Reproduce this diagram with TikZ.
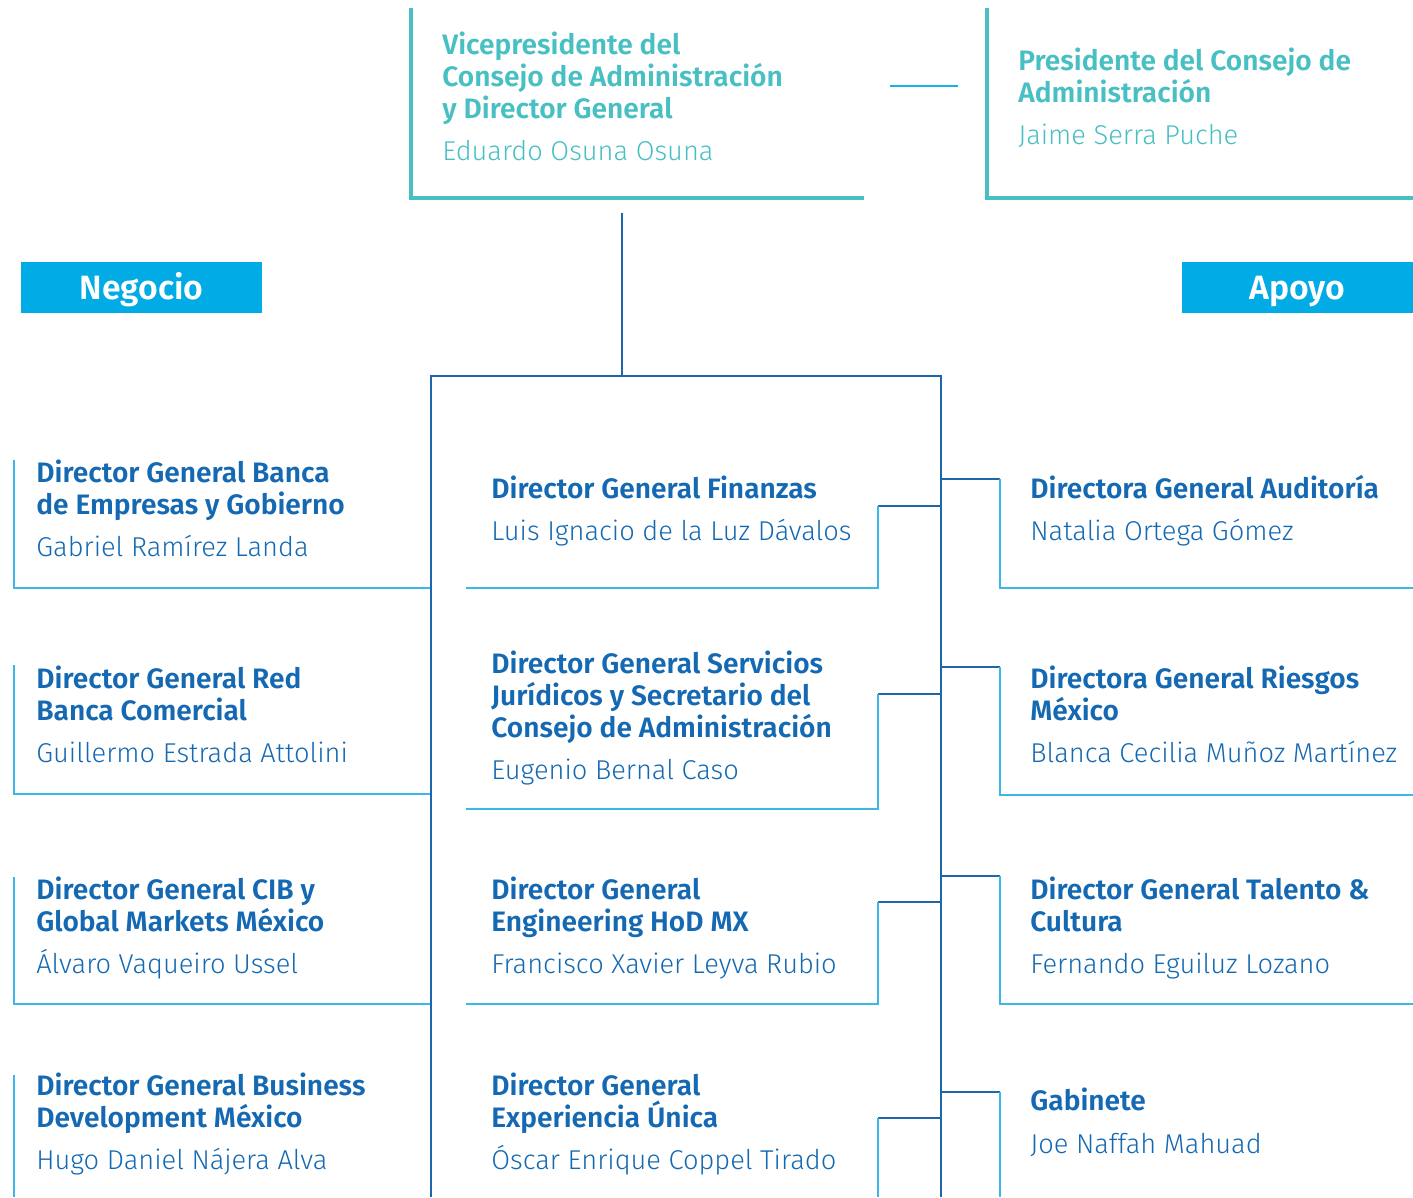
\documentclass[tikz,border=0pt]{standalone}
\usepackage{fontspec}
\setmainfont{Fira Sans}
\newfontfamily\lightfont{Fira Sans Light}
\newfontfamily\semifont{Fira Sans SemiBold}
\usetikzlibrary{positioning}
\definecolor{orgteal}{HTML}{48BFC3}
\definecolor{titleblue}{HTML}{1469B2}
\definecolor{trunkblue}{HTML}{1E66AA}
\definecolor{lineblue}{HTML}{3DB6E8}
\definecolor{bannerblue}{HTML}{00ABE6}
\definecolor{linkblue}{HTML}{14B4EB}
\tikzset{
	org/.style={x=0.02cm,y=-0.02cm},
	bosstitle/.style={anchor=base west,align=left,inner sep=0pt,text=orgteal,
		font=\semifont\fontsize{16}{18.2}\selectfont},
	bossname/.style={anchor=base west,inner sep=0pt,text=orgteal,
		font=\lightfont\fontsize{15.5}{18.2}\selectfont},
	roletitle/.style={anchor=base west,align=left,inner sep=0pt,text=titleblue,
		font=\semifont\fontsize{16}{18.2}\selectfont},
	rolename/.style={anchor=base west,inner sep=0pt,text=titleblue,
		font=\lightfont\fontsize{15.5}{18.2}\selectfont},
	banner/.style={fill=bannerblue,text=white,inner sep=0pt,minimum height=1.02cm,
		text height=13.2pt,text depth=0pt,
		font=\semifont\fontsize{19.2}{21}\selectfont},
	topline/.style={draw=orgteal,line width=2.2pt},
	trunk/.style={draw=trunkblue,line width=1.6pt},
	boxline/.style={draw=lineblue,line width=1.5pt}
}

\begin{document}
\begin{tikzpicture}[org]
	\useasboundingbox (0,0) rectangle (1413,1197);
	
	% top boxes
	\draw[topline] (411,8) |- (864,198);
	\draw[topline] (987,8) |- (1413,198);
	\node[bosstitle] (vp) at (442,118) {Vicepresidente del\\Consejo de Administración\\y Director General};
	\node[bossname] (vpname) at (442,160) {Eduardo Osuna Osuna};
	\node[bosstitle] (pres) at (1018,102) {Presidente del Consejo de\\Administración};
	\node[bossname] (presname) at (1018,144) {Jaime Serra Puche};
	\coordinate (vplink) at (890,86);
	\coordinate (preslink) at (958,86);
	\draw[linkblue,line width=1.2pt] (vplink) -- (preslink);
	
	% banners
	\node[banner,minimum width=4.82cm] (negocio) at (141.5,287.5) {Negocio};
	\node[banner,minimum width=4.62cm] (apoyo) at (1297.5,287.5) {Apoyo};
	
	% trunk
	\coordinate (vpfoot) at (622,213);
	\coordinate (hub) at (622,376);
	\coordinate (trunkL) at (431,1197);
	\coordinate (trunkR) at (941,1197);
	\draw[trunk] (vpfoot) -- (hub);
	\draw[trunk] (trunkL) |- (trunkR |- hub) -- (trunkR);
	
	% negocio
	\draw[boxline] (14,460) |- (430,588);
	\draw[boxline] (14,665) |- (430,794);
	\draw[boxline] (14,877) |- (430,1004);
	\draw[boxline] (14,1075) -- (14,1197);
	\node[roletitle] (banca) at (36,514) {Director General Banca\\de Empresas y Gobierno};
	\node[rolename] (bancaname) at (36,556) {Gabriel Ramírez Landa};
	\node[roletitle] (red) at (36,720) {Director General Red\\Banca Comercial};
	\node[rolename] (redname) at (36,762) {Guillermo Estrada Attolini};
	\node[roletitle] (cib) at (36,931) {Director General CIB y\\Global Markets México};
	\node[rolename] (cibname) at (36,973) {Álvaro Vaqueiro Ussel};
	\node[roletitle] (bdev) at (36,1127) {Director General Business\\Development México};
	\node[rolename] (bdevname) at (36,1169) {Hugo Daniel Nájera Alva};
	
	% centro
	\draw[trunk] (941,506) -- (878,506);
	\draw[boxline] (878,506) |- (466,588);
	\draw[trunk] (941,694) -- (878,694);
	\draw[boxline] (878,694) |- (466,809);
	\draw[trunk] (941,902) -- (878,902);
	\draw[boxline] (878,902) |- (466,1004);
	\draw[trunk] (941,1118) -- (878,1118);
	\draw[boxline] (878,1118) -- (878,1197);
	\node[roletitle] (fin) at (491,498) {Director General Finanzas};
	\node[rolename] (finname) at (491,540) {Luis Ignacio de la Luz Dávalos};
	\node[roletitle] (jur) at (491,737) {Director General Servicios\\Jurídicos y Secretario del\\Consejo de Administración};
	\node[rolename] (jurname) at (491,779) {Eugenio Bernal Caso};
	\node[roletitle] (eng) at (491,931) {Director General\\Engineering HoD MX};
	\node[rolename] (engname) at (491,973) {Francisco Xavier Leyva Rubio};
	\node[roletitle] (exp) at (491,1127) {Director General\\Experiencia Única};
	\node[rolename] (expname) at (491,1169) {Óscar Enrique Coppel Tirado};
	
	% apoyo
	\draw[trunk] (941,479) -- (1000,479);
	\draw[boxline] (1000,479) |- (1413,588);
	\draw[trunk] (941,667) -- (1000,667);
	\draw[boxline] (1000,667) |- (1413,795);
	\draw[trunk] (941,876) -- (1000,876);
	\draw[boxline] (1000,876) |- (1413,1004);
	\draw[trunk] (941,1092) -- (1000,1092);
	\draw[boxline] (1000,1092) -- (1000,1197);
	\node[roletitle] (aud) at (1030,498) {Directora General Auditoría};
	\node[rolename] (audname) at (1030,540) {Natalia Ortega Gómez};
	\node[roletitle] (ries) at (1030,720) {Directora General Riesgos\\México};
	\node[rolename] (riesname) at (1030,762) {Blanca Cecilia Muñoz Martínez};
	\node[roletitle] (tal) at (1030,931) {Director General Talento \&\\Cultura};
	\node[rolename] (talname) at (1030,973) {Fernando Eguiluz Lozano};
	\node[roletitle] (gab) at (1030,1110) {Gabinete};
	\node[rolename] (gabname) at (1030,1153) {Joe Naffah Mahuad};
	
\end{tikzpicture}
\end{document}
